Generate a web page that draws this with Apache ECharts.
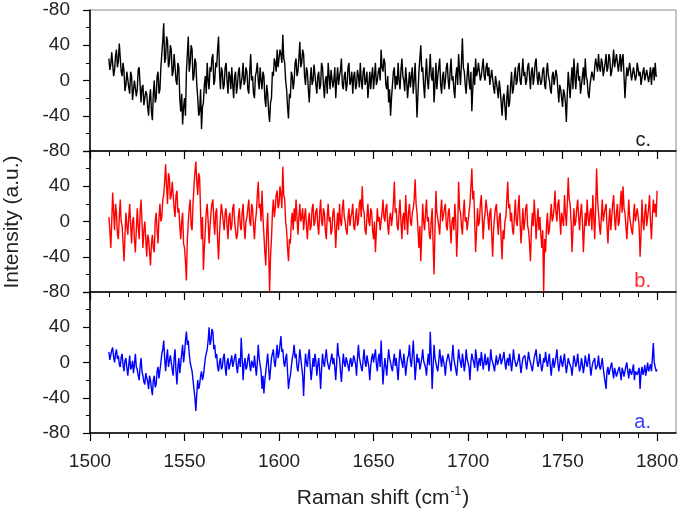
<!DOCTYPE html>
<html>
<head>
<meta charset="utf-8">
<script src="https://cdn.jsdelivr.net/npm/echarts@6/dist/echarts.min.js"></script>
<style>html,body{margin:0;padding:0;background:#fff}#c{width:683px;height:513px}</style>
</head>
<body>
<div id="c"></div>
<script>
// x sampling: Raman shift from 1510 to 1800 cm-1, 0.5 cm-1 steps
const X_START = 1510;
const X_STEP = 0.5;
const xMajorTicks = [1500, 1550, 1600, 1650, 1700, 1750, 1800];
const yTicks = [-80, -40, 0, 40, 80];
const panelLabels = ['c.', 'b.', 'a.'];

// curve c (top, black)
const seriesC = [
 25,12,18,32,30,5,12,28,35,15,22,42,40,10,5,20,10,-12,-5,10,
 8,-8,-15,10,5,-22,-20,0,2,-18,-10,12,15,-5,-25,-8,-5,-28,-30,-12,
 -15,-30,-40,-20,-10,-35,-45,-15,0,-25,-20,5,10,-15,-10,15,30,45,65,20,
 25,50,45,15,20,40,35,5,10,30,28,0,-5,20,15,-20,-35,-15,-50,-30,
 -20,-40,10,30,50,10,20,40,35,0,5,25,20,-5,-20,-40,-35,-10,-55,-30,
 -25,-5,5,-15,20,0,-10,15,10,25,30,-5,0,20,15,35,50,10,-10,15,
 10,-10,-5,15,20,0,-15,10,5,-10,15,-5,-20,5,10,-15,-5,10,15,-10,
 -10,5,20,-5,0,15,10,-10,-15,10,30,0,5,-15,-20,5,10,20,0,-10,
 15,0,-10,10,5,-20,-30,-5,-15,-35,-47,-25,-20,10,5,25,20,10,35,15,
 15,35,30,20,52,25,20,0,-10,-30,-43,-15,-20,10,5,-10,0,20,25,5,
 10,25,44,15,20,35,30,5,-5,15,10,-10,-25,0,15,-5,0,18,20,-5,
 -15,5,10,-10,-5,20,15,-5,-20,0,5,-15,20,5,-10,12,10,-8,0,15,
 -20,0,15,-5,5,12,25,-5,-10,5,10,-12,-5,15,20,-5,0,10,-15,5,
 10,-10,-5,12,5,-8,20,0,-10,10,15,-5,0,10,-20,-5,10,-10,5,15,
 -10,5,20,-5,0,10,15,0,35,15,10,25,20,-5,-10,5,-25,-10,-40,-20,
 -5,10,15,-10,5,-5,20,0,-10,12,25,5,0,-12,15,0,-20,-5,10,-8,
 5,15,-15,0,20,-10,-42,-15,10,25,40,10,15,-5,-20,5,25,0,-10,10,
 30,5,0,15,-25,-5,20,-10,5,15,25,-5,-15,5,10,-10,0,15,20,0,
 -10,10,25,0,5,-10,-20,5,15,-5,30,10,-5,20,48,15,10,-5,-15,5,
 20,0,-10,10,-35,-10,15,-5,25,5,10,20,20,0,5,15,25,5,0,15,
 20,5,15,-5,-5,12,10,-8,-15,5,5,-10,-20,0,-10,-25,-40,-20,-15,-30,
 -45,-20,-5,-30,-25,-5,10,-15,-10,5,15,-5,0,15,20,0,-5,10,25,5,
 10,-5,0,15,20,5,-10,10,15,-5,5,20,25,5,-5,10,10,-5,0,12,
 15,-5,-10,10,20,5,0,-10,-15,5,10,-5,-5,12,5,-10,-25,-5,-10,-20,
 -30,-10,-15,-25,-47,-15,10,-5,-20,0,15,-10,25,5,-10,10,20,0,5,-15,
 -15,5,15,-5,25,5,0,-15,-20,-5,-5,10,10,0,15,25,25,10,30,15,
 10,25,20,5,5,20,30,10,15,30,25,5,10,20,35,15,15,30,30,10,
 20,30,10,25,30,5,-20,0,15,5,5,20,20,0,0,15,15,0,5,20,
 20,5,10,-5,-5,10,15,0,0,12,10,-2,5,15,-5,10,15,0,20,5,
 5
];

// curve b (middle, red)
const seriesB = [
 5,-10,-30,0,33,10,-10,20,10,-15,-20,5,25,0,-5,-25,-45,-15,10,-5,
 -15,5,20,-5,-25,0,5,-20,-35,-10,15,-5,-20,10,25,0,-30,-10,0,-20,
 -40,-15,-20,-35,-50,-25,-15,-30,-35,0,10,-10,-25,5,20,0,5,25,30,45,
 65,40,20,55,50,25,30,45,45,15,5,30,35,10,15,-5,-20,0,10,-25,
 -30,-45,-67,-20,0,15,25,-5,-10,20,40,55,68,45,30,55,50,10,-20,5,
 -55,-30,-10,10,20,0,-25,-5,10,20,25,0,-15,10,15,-20,-43,-15,5,20,
 20,0,-10,10,15,-5,-20,5,10,-10,-5,15,20,0,0,-20,-15,5,15,-5,
 -10,10,20,-5,-20,0,5,15,25,0,-5,20,15,-5,-20,0,10,30,45,15,
 20,0,35,5,-15,-35,-50,-10,10,-30,-80,-40,-20,10,25,5,15,30,35,15,
 20,40,30,15,62,30,25,0,-10,-30,-45,-20,-25,0,10,-10,15,0,25,5,
 -15,5,20,0,5,15,-10,5,15,-5,-20,0,10,-10,-5,15,20,-5,0,12,
 15,-5,-15,10,25,0,-5,15,10,-10,-20,5,20,0,5,-15,-10,10,15,-5,
 -30,-5,10,-10,20,0,-5,15,25,5,0,-10,-15,5,15,-5,5,10,20,-5,
 -10,5,15,-5,0,20,25,5,40,15,10,-10,-15,5,20,0,-5,15,10,-10,
 -20,0,-35,-10,15,0,5,-10,-10,10,25,5,0,15,20,-5,-15,5,10,-5,
 5,20,45,10,15,-5,-10,10,25,0,-20,5,10,-10,30,5,-15,10,20,0,
 -5,10,15,25,48,20,10,-10,-30,-5,-45,-15,20,0,-10,10,25,0,5,-15,
 -20,0,15,-25,-60,-10,35,10,10,-5,-15,10,25,0,0,15,20,-5,-10,10,
 15,-5,-25,0,5,-10,20,0,-40,-10,45,15,10,-5,-15,10,25,0,5,-10,
 -10,10,20,40,60,25,35,0,-35,-10,15,-5,0,20,30,5,-20,0,10,25,
 25,5,-10,10,15,-15,-40,-10,5,15,20,0,-15,5,10,-20,-43,-10,-20,0,
 5,25,45,15,20,0,10,-10,-15,5,25,0,-5,15,30,0,-25,-5,15,-10,
 0,15,20,-5,-10,-25,-45,-10,10,-5,25,5,-20,0,15,-10,5,-15,-30,-10,
 -80,-20,-35,-5,10,-15,-10,5,20,0,5,15,35,10,0,20,25,5,-15,10,
 10,-5,30,10,-5,20,50,25,20,0,-35,-10,15,-5,0,15,25,5,-10,10,
 20,0,-35,-10,10,-5,25,5,-5,10,15,-10,30,5,-20,15,60,25,10,-5,
 -15,5,25,0,0,15,20,-5,-25,0,15,-10,5,20,30,5,-10,10,20,-5,
 0,20,35,10,40,15,10,-5,-20,0,25,5,5,-10,-15,5,20,0,0,15,
 15,-5,-40,-15,25,0,-10,10,20,-5,5,15,30,0,-20,5,25,10,20,5,
 35
];

// curve a (bottom, blue)
const seriesA = [
 12,3,5,14,17,6,0,10,15,4,8,-2,-5,6,10,-3,-10,2,5,-6,
 -15,-3,8,-8,-5,2,-12,-2,10,-5,-8,-15,-20,-5,5,-10,-15,-22,-25,-12,
 -10,-22,-30,-15,-20,-30,-37,-20,-15,-28,-25,-10,-5,-18,-20,0,10,15,25,5,
 -10,5,15,-5,-5,8,10,-8,-15,5,15,-10,-25,-5,5,-12,-10,10,20,0,
 10,25,35,20,25,10,0,-5,-10,-20,-30,-40,-55,-35,-20,-30,-25,-15,-10,-20,
 -15,-5,5,10,15,25,40,20,25,38,35,15,20,5,10,-5,-10,0,5,-8,
 -5,5,10,-5,-15,0,5,-8,-10,2,8,-5,0,6,10,-4,-12,0,5,-5,
 28,5,-20,-2,5,-8,-5,4,10,-3,-10,2,0,-6,8,-4,-15,0,20,5,
 5,-10,-30,-15,-35,-20,-10,0,10,-5,-20,-8,5,10,15,0,-5,8,20,5,
 10,20,30,12,15,0,-5,5,10,-10,-30,-20,-15,-5,5,10,20,5,10,-5,
 -10,0,15,5,5,-15,-38,-10,10,0,-5,8,15,-5,-20,-8,5,-5,10,2,
 -15,-2,5,-10,-30,-8,10,0,-5,6,15,2,0,-8,-10,4,10,-2,5,-6,
 -20,0,22,8,5,-10,-22,-5,10,0,-5,6,8,-4,-10,2,5,-5,0,8,
 10,-2,-15,5,20,6,5,-6,-10,4,15,0,-5,8,10,-5,-20,-4,5,10,
 0,8,15,-2,-10,5,10,-5,25,0,-25,-8,5,-5,-15,2,15,5,0,-6,
 -10,2,10,-4,5,-8,-20,0,15,5,0,-6,10,0,-15,-4,5,8,20,2,
 -5,8,25,5,-20,-5,10,0,5,-8,-10,4,15,2,0,-6,-15,0,10,-3,
 35,8,-30,-5,20,5,5,-6,-10,2,15,4,-5,8,10,-4,-15,0,5,10,
 10,-2,-10,6,20,4,5,-8,-15,0,15,5,0,-6,10,2,-10,-2,15,4,
 5,-5,-20,0,10,4,0,-6,15,6,-10,0,5,-4,12,3,-8,0,10,-3,
 0,6,-10,-2,15,4,5,-4,-10,0,8,-3,-5,5,10,-2,0,6,12,0,
 -8,2,5,-4,10,2,-10,0,15,4,0,-5,-5,3,10,-2,-12,-3,5,6,
 8,0,-8,2,12,4,0,-5,-10,-2,5,6,15,2,-5,0,10,-2,-10,-4,
 5,0,12,2,-5,3,10,-4,-15,-2,5,-6,0,6,15,0,-10,-2,8,0,
 -5,3,10,-2,-12,-4,5,0,0,-6,-15,-3,8,2,-5,0,10,-2,-10,-5,
 5,-2,-12,-4,8,0,-5,2,10,-4,-15,-6,0,-2,5,-8,-10,-3,8,-4,
 -8,-2,5,-6,-15,-22,-30,-10,-5,-14,-12,-4,0,-10,-18,-6,-8,-16,-15,-8,
 -5,-12,-20,-6,-10,-16,-15,-4,0,-10,-18,-7,-5,-14,-12,-2,-20,-10,-8,-14,
 -15,-6,-30,-12,-5,-14,-10,-3,-15,-8,0,-10,-8,-2,-10,5,22,0,-5,-10,
 -8
];

const panels = [
  { data: seriesC, color: '#000000', labelColor: '#1a1a1a' },
  { data: seriesB, color: '#ff0000', labelColor: '#ff2a2a' },
  { data: seriesA, color: '#0000ff', labelColor: '#3a3aff' }
];

const FONT = "'Liberation Sans', Arial, sans-serif";
const GRID_TOP = [10, 151, 292];
const GRID_H = 141;

const minorTickVals = [];
for (let v = 1500; v <= 1800; v += 10) if (v % 50 !== 0) minorTickVals.push(v);

function toPairs(arr) { return arr.map((v, i) => [X_START + i * X_STEP, v]); }

const grids = [], xAxes = [], yAxes = [], series = [], graphics = [];
panels.forEach((p, i) => {
  grids.push({ left: 90, right: 7, top: GRID_TOP[i], height: GRID_H, show: true,
    borderColor: '#8a8a8a', borderWidth: 1, backgroundColor: 'transparent' });
  const isBottom = i === panels.length - 1;
  xAxes.push({
    type: 'value', gridIndex: i, min: 1500, max: 1810, position: 'bottom',
    axisLine: { show: true, onZero: false, lineStyle: { color: '#000', width: 1.5 } },
    axisTick: { show: true, customValues: xMajorTicks, length: 8, lineStyle: { color: '#000', width: 1.2 } },
    axisLabel: { show: isBottom, customValues: xMajorTicks, margin: 19, fontSize: 19, fontFamily: FONT, color: '#222',
      formatter: v => String(v) },
    splitLine: { show: false },
    name: isBottom ? '{t|Raman shift (cm}{s|-1}{t|)}' : '',
    nameLocation: 'middle', nameGap: 53,
    nameTextStyle: { rich: {
      t: { fontSize: 21, fontFamily: FONT, color: '#222', lineHeight: 24 },
      s: { fontSize: 12, fontFamily: FONT, color: '#222', verticalAlign: 'top', lineHeight: 24, padding: [0, 1, 12, 1] }
    } }
  });
  xAxes.push({
    type: 'value', gridIndex: i, min: 1500, max: 1810, position: 'bottom',
    axisLine: { show: false, onZero: false },
    axisTick: { show: true, customValues: minorTickVals, length: 5, lineStyle: { color: '#000', width: 1 } },
    axisLabel: { show: false },
    splitLine: { show: false }
  });
  const top = i === 0;
  yAxes.push({
    type: 'value', gridIndex: i, min: yTicks[0], max: yTicks[yTicks.length - 1], interval: 40,
    axisLine: { show: true, onZero: false, lineStyle: { color: '#000', width: 1.5 } },
    axisTick: { show: true, length: 7, lineStyle: { color: '#000', width: 1.2 } },
    minorTick: { show: true, splitNumber: 2, length: 4, lineStyle: { color: '#000', width: 1 } },
    axisLabel: { margin: 20, fontSize: 19, fontFamily: FONT, color: '#222',
      formatter: v => (v === 80 ? (top ? '-80' : '') : String(v)) },
    splitLine: { show: false }
  });
  series.push({
    type: 'line', xAxisIndex: i * 2, yAxisIndex: i, data: toPairs(p.data),
    showSymbol: false, symbol: 'none', lineStyle: { color: p.color, width: 1.4 },
    itemStyle: { color: p.color }, animation: false, silent: true
  });
  graphics.push({
    type: 'text', right: 32, top: GRID_TOP[i] + GRID_H - 21,
    style: { text: panelLabels[i], font: '20px ' + FONT, fill: p.labelColor }
  });
});

graphics.push({
  type: 'text', x: 2, y: 222, rotation: Math.PI / 2,
  style: { text: 'Intensity (a.u.)', font: '21px ' + FONT, fill: '#222', align: 'center', verticalAlign: 'top' }
});

const chart = echarts.init(document.getElementById('c'), null, { renderer: 'canvas' });
chart.setOption({
  animation: false,
  backgroundColor: '#fff',
  grid: grids, xAxis: xAxes, yAxis: yAxes, series: series, graphic: graphics
});
</script>
</body>
</html>
